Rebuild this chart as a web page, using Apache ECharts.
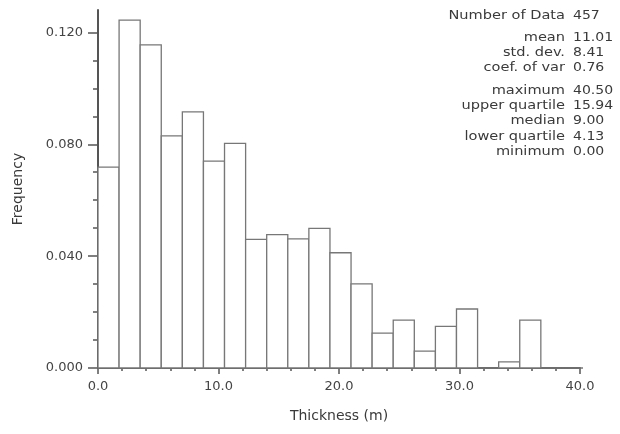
<!DOCTYPE html>
<html>
<head>
<meta charset="utf-8">
<script src="https://cdn.jsdelivr.net/npm/echarts@6/dist/echarts.min.js"></script>
<style>html,body{margin:0;padding:0;background:#fff;}#c{width:620px;height:434px;}</style>
</head>
<body>
<div id="c"></div>
<script>
// ---- data ----
var binWidth = 1.75;
var frequencies = [0.0718, 0.1244, 0.1155, 0.0830, 0.0916, 0.0740, 0.0803, 0.0460, 0.0477, 0.0462,
                   0.0499, 0.0412, 0.0301, 0.0125, 0.0171, 0.0060, 0.0149, 0.0211, 0.0000, 0.0022,
                   0.0171, 0.0000, 0.0000];
var yMajorTicks = [0, 0.04, 0.08, 0.12];
var yMinorTicks = [0.01, 0.02, 0.03, 0.05, 0.06, 0.07, 0.09, 0.10, 0.11];
var statLabels = ['Number of Data', 'mean', 'std. dev.', 'coef. of var', 'maximum', 'upper quartile', 'median', 'lower quartile', 'minimum'];
var statValues = ['457', '11.01', '8.41', '0.76', '40.50', '15.94', '9.00', '4.13', '0.00'];
var statRowY = [16, 38, 53, 68, 91, 106, 121, 137, 152];

var FONT = 'DejaVu Sans';
var bins = frequencies.map(function (f, i) { return [i * binWidth, (i + 1) * binWidth, f]; });

var graphics = [];
statLabels.forEach(function (s, i) {
  graphics.push({ type: 'text', x: 565, y: statRowY[i], scaleX: 1.12, style: { text: s, fill: '#3a3a3a', font: '13px "' + FONT + '"', textAlign: 'right', textVerticalAlign: 'middle' } });
  graphics.push({ type: 'text', x: 573, y: statRowY[i], scaleX: 1.08, style: { text: statValues[i], fill: '#3a3a3a', font: '13px "' + FONT + '"', textAlign: 'left', textVerticalAlign: 'middle' } });
});

var chart = echarts.init(document.getElementById('c'), null, { renderer: 'canvas' });
chart.setOption({
  animation: false,
  backgroundColor: '#fff',
  textStyle: { fontFamily: FONT },
  grid: { left: 98, right: 40, top: 10, bottom: 66 },
  xAxis: {
    type: 'value', min: 0, max: 40, interval: 10,
    name: 'Thickness (m)', nameLocation: 'middle', nameGap: 41,
    nameTextStyle: { fontFamily: FONT, fontSize: 14, color: '#3a3a3a' },
    axisLine: { show: true, lineStyle: { color: '#555', width: 2 } },
    axisTick: { show: true, length: 6, lineStyle: { color: '#555', width: 1.5 } },
    minorTick: { show: true, splitNumber: 5, length: 3, lineStyle: { color: '#555', width: 1.5 } },
    axisLabel: { fontFamily: FONT, fontSize: 13, color: '#444', margin: 12, formatter: function (v) { return v.toFixed(1); } },
    splitLine: { show: false }
  },
  yAxis: [{
    type: 'value', min: 0, max: 0.128, position: 'left',
    name: 'Frequency', nameLocation: 'middle', nameGap: 73,
    nameTextStyle: { fontFamily: FONT, fontSize: 14, color: '#3a3a3a' },
    axisLine: { show: true, lineStyle: { color: '#555', width: 2 } },
    axisTick: { show: true, length: 10, customValues: yMajorTicks, lineStyle: { color: '#555', width: 1.5 } },
    axisLabel: { fontFamily: FONT, fontSize: 13, color: '#444', margin: 15, customValues: yMajorTicks, padding: [0, 0, 5, 0],
      formatter: function (v) { return v.toFixed(3); } },
    splitLine: { show: false }
  }, {
    type: 'value', min: 0, max: 0.128, position: 'left', offset: 0,
    axisLine: { show: false },
    axisTick: { show: true, length: 5, customValues: yMinorTicks, lineStyle: { color: '#555', width: 1.5 } },
    axisLabel: { show: false },
    splitLine: { show: false }
  }],
  graphic: graphics,
  series: [{
    type: 'custom',
    xAxisIndex: 0, yAxisIndex: 0,
    encode: { x: [0, 1], y: 2 },
    data: bins,
    renderItem: function (params, api) {
      var p0 = api.coord([api.value(0), api.value(2)]);
      var p1 = api.coord([api.value(1), 0]);
      return {
        type: 'rect',
        shape: { x: p0[0], y: p0[1], width: p1[0] - p0[0], height: p1[1] - p0[1] },
        style: { fill: '#fff', stroke: '#777', lineWidth: 1.3 }
      };
    },
    z: 1
  }]
});
</script>
</body>
</html>
